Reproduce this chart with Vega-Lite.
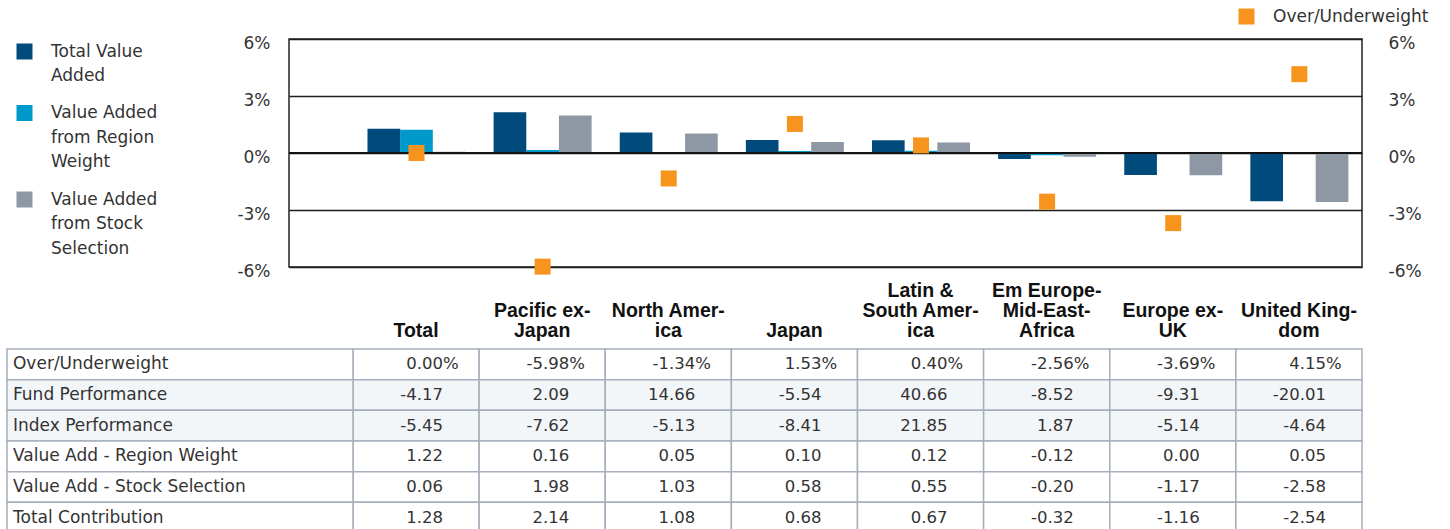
{
  "$schema": "https://vega.github.io/schema/vega-lite/v6.json",
  "padding": {"left": 6, "top": 7, "right": 0, "bottom": 0},
  "autosize": {"type": "pad"},
  "background": "white",
  "config": {
    "view": {"stroke": null},
    "font": "DejaVu Sans",
    "locale": {"number": {"decimal": ".", "thousands": ",", "grouping": [3], "currency": ["$", ""], "minus": "-"}}
  },
  "datasets": {
    "regions": [
      {"region": "Total", "Over/Underweight": 0.00, "Fund Performance": -4.17, "Index Performance": -5.45, "Value Add - Region Weight": 1.22, "Value Add - Stock Selection": 0.06, "Total Contribution": 1.28},
      {"region": "Pacific ex-Japan", "Over/Underweight": -5.98, "Fund Performance": 2.09, "Index Performance": -7.62, "Value Add - Region Weight": 0.16, "Value Add - Stock Selection": 1.98, "Total Contribution": 2.14},
      {"region": "North America", "Over/Underweight": -1.34, "Fund Performance": 14.66, "Index Performance": -5.13, "Value Add - Region Weight": 0.05, "Value Add - Stock Selection": 1.03, "Total Contribution": 1.08},
      {"region": "Japan", "Over/Underweight": 1.53, "Fund Performance": -5.54, "Index Performance": -8.41, "Value Add - Region Weight": 0.10, "Value Add - Stock Selection": 0.58, "Total Contribution": 0.68},
      {"region": "Latin & South America", "Over/Underweight": 0.40, "Fund Performance": 40.66, "Index Performance": 21.85, "Value Add - Region Weight": 0.12, "Value Add - Stock Selection": 0.55, "Total Contribution": 0.67},
      {"region": "Em Europe-Mid-East-Africa", "Over/Underweight": -2.56, "Fund Performance": -8.52, "Index Performance": 1.87, "Value Add - Region Weight": -0.12, "Value Add - Stock Selection": -0.20, "Total Contribution": -0.32},
      {"region": "Europe ex-UK", "Over/Underweight": -3.69, "Fund Performance": -9.31, "Index Performance": -5.14, "Value Add - Region Weight": 0.00, "Value Add - Stock Selection": -1.17, "Total Contribution": -1.16},
      {"region": "United Kingdom", "Over/Underweight": 4.15, "Fund Performance": -20.01, "Index Performance": -4.64, "Value Add - Region Weight": 0.05, "Value Add - Stock Selection": -2.58, "Total Contribution": -2.54}
    ]
  },
  "bounds": "flush",
  "spacing": 82,
  "vconcat": [
    {
      "width": 1073,
      "height": 228,
      "view": {"stroke": "#222222", "strokeWidth": 1.5},
      "data": {"name": "regions"},
      "transform": [{"fold": ["Over/Underweight", "Fund Performance", "Index Performance", "Value Add - Region Weight", "Value Add - Stock Selection", "Total Contribution"], "as": ["metric", "value"]}],
      "layer": [
        {
          "transform": [{"filter": {"field": "metric", "oneOf": ["Total Contribution", "Value Add - Region Weight", "Value Add - Stock Selection"]}}],
          "mark": {"type": "bar"},
          "encoding": {
            "x": {"field": "region", "type": "nominal", "sort": null,
              "scale": {"domain": ["Total", "Pacific ex-Japan", "North America", "Japan", "Latin & South America", "Em Europe-Mid-East-Africa", "Europe ex-UK", "United Kingdom"], "paddingInner": 0.223, "paddingOuter": 0.3652, "align": 0.852},
              "axis": null},
            "xOffset": {"field": "metric", "type": "nominal",
              "scale": {"domain": ["Total Contribution", "Value Add - Region Weight", "Value Add - Stock Selection"], "paddingInner": 0, "paddingOuter": 0}},
            "y": {"field": "value", "type": "quantitative",
              "scale": {"domain": [-6, 6], "nice": false, "zero": false},
              "axis": {"orient": "left", "values": [-6, -3, 0, 3, 6], "title": null, "grid": true, "gridColor": "#1e1e1e", "gridWidth": 1.3, "gridOpacity": 1, "domain": false, "ticks": false, "labelPadding": 19, "labelOffset": 4, "labelFont": "DejaVu Sans", "labelFontSize": 17, "labelColor": "#333333", "labelExpr": "datum.value + '%'"}},
            "color": {"field": "metric", "type": "nominal",
              "scale": {"domain": ["Total Contribution", "Value Add - Region Weight", "Value Add - Stock Selection"], "range": ["#004a7c", "#0099cc", "#8e98a4"]},
              "legend": {
                "orient": "none", "legendX": -273, "legendY": 4, "title": null, "padding": 0,
                "symbolType": "square", "symbolSize": 256, "symbolStrokeWidth": 0, "symbolOffset": 0, "symbolOpacity": 1,
                "labelOffset": 18, "rowPadding": 19.5, "labelFont": "DejaVu Sans", "labelFontSize": 17, "labelColor": "#333333", "labelLimit": 400,
                "labelBaseline": "top",
                "labelExpr": "({'Total Contribution': ['Total Value', 'Added'], 'Value Add - Region Weight': ['Value Added', 'from Region', 'Weight'], 'Value Add - Stock Selection': ['Value Added', 'from Stock', 'Selection']})[datum.label]",
                "encode": {"labels": {"update": {"dy": {"value": -8}, "lineHeight": {"value": 24.5}}}}
              }}
          }
        },
        {
          "data": {"values": [{}]},
          "mark": {"type": "rule", "color": "#111111", "strokeWidth": 2},
          "encoding": {"y": {"datum": 0, "type": "quantitative", "axis": null}}
        },
        {
          "transform": [{"filter": "datum.metric === 'Over/Underweight'"}],
          "mark": {"type": "point", "shape": "square", "filled": true, "size": 256, "opacity": 1},
          "encoding": {
            "x": {"field": "region", "type": "nominal", "sort": null, "axis": null},
            "y": {"field": "value", "type": "quantitative",
              "axis": {"orient": "right", "values": [-6, -3, 0, 3, 6], "title": null, "grid": false, "domain": false, "ticks": false, "labelPadding": 26, "labelOffset": 4, "labelFont": "DejaVu Sans", "labelFontSize": 17, "labelColor": "#333333", "labelExpr": "datum.value + '%'"}},
            "color": {"field": "metric", "type": "nominal",
              "scale": {"domain": ["Over/Underweight"], "range": ["#f7941d"]},
              "legend": {
                "orient": "none", "legendX": 949, "legendY": -31, "title": null, "padding": 0,
                "symbolType": "square", "symbolSize": 256, "symbolStrokeWidth": 0, "symbolOffset": 0, "symbolOpacity": 1,
                "labelOffset": 18, "labelFont": "DejaVu Sans", "labelFontSize": 17, "labelColor": "#333333", "labelLimit": 400
              }}
          }
        }
      ],
      "resolve": {"scale": {"color": "independent"}, "axis": {"y": "independent"}}
    },
    {
      "width": 1073,
      "height": 184,
      "data": {"name": "regions"},
      "transform": [{"fold": ["Over/Underweight", "Fund Performance", "Index Performance", "Value Add - Region Weight", "Value Add - Stock Selection", "Total Contribution"], "as": ["metric", "value"]}],
      "layer": [
        {
          "layer": [
            {
              "mark": {"type": "rect", "stroke": "#a7aebb", "strokeWidth": 1.5},
              "encoding": {
                "x": {"field": "region", "type": "nominal", "sort": null,
                  "scale": {"domain": ["Total", "Pacific ex-Japan", "North America", "Japan", "Latin & South America", "Em Europe-Mid-East-Africa", "Europe ex-UK", "United Kingdom"], "paddingInner": 0, "paddingOuter": 0.2537, "align": 1},
                  "axis": {"orient": "top", "title": null, "domain": false, "ticks": false, "labelAngle": 0, "labelOverlap": false,
                    "labelFont": "Liberation Sans", "labelFontWeight": "bold", "labelFontSize": 19.5, "labelColor": "#111111",
                    "labelPadding": {"condition": [{"test": "indexof(['Total', 'Japan'], datum.value) >= 0", "value": 9}, {"test": "indexof(['Latin & South America', 'Em Europe-Mid-East-Africa'], datum.value) >= 0", "value": 49}], "value": 29},
                    "labelLineHeight": 20, "labelLimit": 0, "labelBaseline": "bottom",
                    "labelExpr": "({'Total': 'Total', 'Pacific ex-Japan': ['Pacific ex-', 'Japan'], 'North America': ['North Amer-', 'ica'], 'Japan': 'Japan', 'Latin & South America': ['Latin &', 'South Amer-', 'ica'], 'Em Europe-Mid-East-Africa': ['Em Europe-', 'Mid-East-', 'Africa'], 'Europe ex-UK': ['Europe ex-', 'UK'], 'United Kingdom': ['United King-', 'dom']})[datum.label]"}},
                "y": {"field": "metric", "type": "nominal", "sort": null,
                  "scale": {"domain": ["Over/Underweight", "Fund Performance", "Index Performance", "Value Add - Region Weight", "Value Add - Stock Selection", "Total Contribution"], "paddingInner": 0, "paddingOuter": 0},
                  "axis": null},
                "fill": {"field": "metric", "type": "nominal",
                  "scale": {"domain": ["Over/Underweight", "Fund Performance", "Index Performance", "Value Add - Region Weight", "Value Add - Stock Selection", "Total Contribution"], "range": ["#ffffff", "#f3f6f8", "#f3f6f8", "#ffffff", "#ffffff", "#ffffff"]},
                  "legend": null}
              }
            },
            {
              "mark": {"type": "text", "align": "right", "baseline": "middle", "font": "DejaVu Sans", "fontSize": 16.5, "color": "#333333"},
              "encoding": {
                "x": {"field": "region", "type": "nominal", "sort": null, "bandPosition": 0.714},
                "y": {"field": "metric", "type": "nominal", "sort": null},
                "text": {"field": "value", "type": "quantitative", "format": ".2f"}
              }
            },
            {
              "transform": [{"filter": "datum.metric === 'Over/Underweight'"}],
              "mark": {"type": "text", "align": "left", "baseline": "middle", "font": "DejaVu Sans", "fontSize": 16.5, "color": "#333333"},
              "encoding": {
                "x": {"field": "region", "type": "nominal", "sort": null, "bandPosition": 0.714},
                "y": {"field": "metric", "type": "nominal", "sort": null},
                "text": {"value": "%"}
              }
            }
          ]
        },
        {
          "transform": [{"filter": "datum.region === 'Total'"}],
          "layer": [
            {
              "mark": {"type": "rect", "stroke": "#a7aebb", "strokeWidth": 1.5},
              "encoding": {
                "x": {"field": "region", "type": "nominal",
                  "scale": {"domain": ["Total"], "range": [-282, 64], "paddingInner": 0, "paddingOuter": 0},
                  "axis": null},
                "y": {"field": "metric", "type": "nominal", "sort": null},
                "fill": {"field": "metric", "type": "nominal", "legend": null}
              }
            },
            {
              "mark": {"type": "text", "align": "left", "baseline": "middle", "font": "DejaVu Sans", "fontSize": 17, "color": "#333333"},
              "encoding": {
                "x": {"field": "region", "type": "nominal", "bandPosition": 0.0173},
                "y": {"field": "metric", "type": "nominal", "sort": null},
                "text": {"field": "metric", "type": "nominal"}
              }
            }
          ]
        }
      ],
      "resolve": {"scale": {"x": "independent"}}
    }
  ]
}
